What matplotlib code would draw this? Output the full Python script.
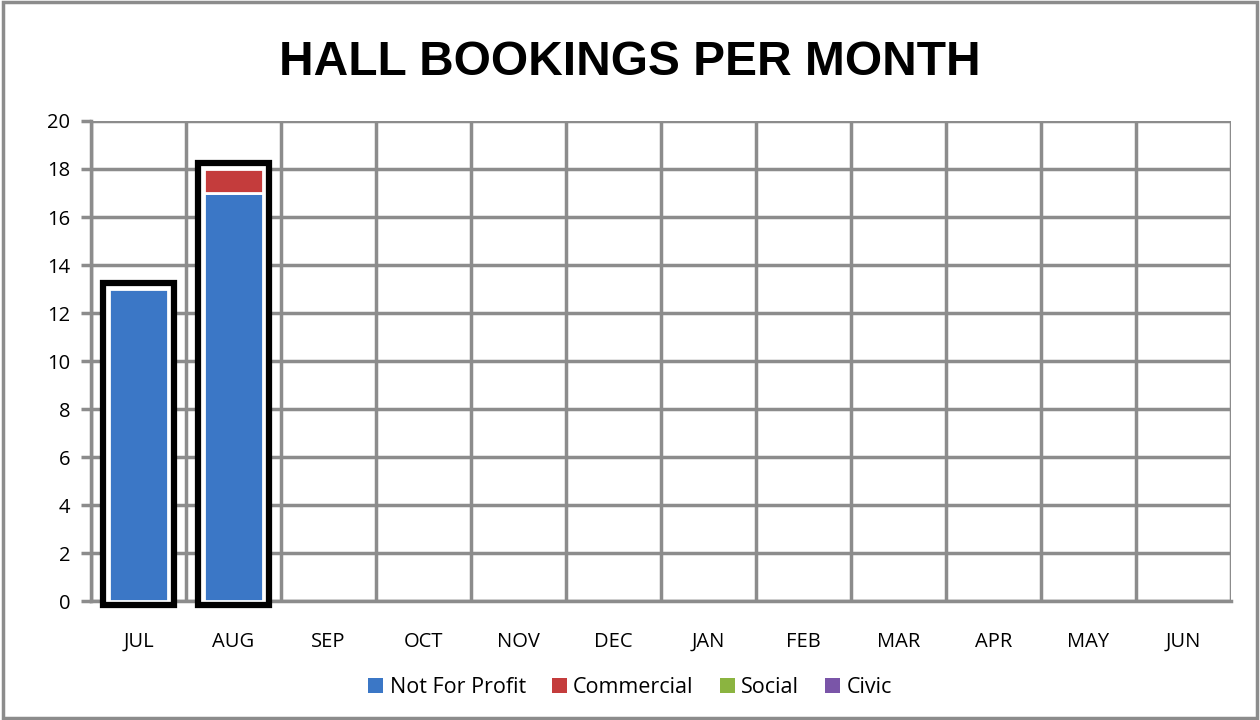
import matplotlib.pyplot as plt
import numpy as np
from matplotlib.patches import Rectangle, Patch

months = ['JUL', 'AUG', 'SEP', 'OCT', 'NOV', 'DEC', 'JAN', 'FEB', 'MAR', 'APR', 'MAY', 'JUN']
not_for_profit = [13, 17, 0, 0, 0, 0, 0, 0, 0, 0, 0, 0]
commercial = [0, 1, 0, 0, 0, 0, 0, 0, 0, 0, 0, 0]
social = [0, 0, 0, 0, 0, 0, 0, 0, 0, 0, 0, 0]
civic = [0, 0, 0, 0, 0, 0, 0, 0, 0, 0, 0, 0]

series = [('Not For Profit', not_for_profit, '#3b77c6'),
          ('Commercial', commercial, '#c43c3c'),
          ('Social', social, '#8bb440'),
          ('Civic', civic, '#7a55a8')]

plt.rcParams['font.family'] = ['Open Sans', 'DejaVu Sans']

fig = plt.figure(figsize=(12.6, 7.2), dpi=100)
fig.patches.append(Rectangle((0.002, 0.003), 0.996, 0.994, transform=fig.transFigure,
                             fill=False, edgecolor='#8c8c8c', linewidth=2.5))
ax = fig.add_axes([0.0722, 0.165, 0.9048, 0.667])

x = np.arange(len(months))
totals = np.sum([s[1] for s in series], axis=0)

# black outline around each month's stack
for xi, t in zip(x, totals):
    if t > 0:
        ax.bar(xi, t + 0.4, width=0.74, bottom=-0.15, color='white', edgecolor='black',
               linewidth=4.5, zorder=3, clip_on=False)

bottom = np.zeros(len(months))
for name, vals, col in series:
    vals = np.array(vals, dtype=float)
    keep = vals > 0
    ax.bar(x[keep], vals[keep], width=0.62, bottom=bottom[keep], color=col,
           edgecolor='white', linewidth=2, zorder=4, label=name)
    bottom += vals

ax.set_xlim(-0.5, len(months) - 0.5)
ax.set_ylim(0, 20)
ax.set_yticks(range(0, 21, 2))
ax.set_xticks(x)
ax.set_xticklabels(months)
ax.set_xticks(np.arange(-0.5, len(months), 1), minor=True)
ax.grid(axis='y', color='#8c8c8c', linewidth=2.5, zorder=0)
ax.grid(axis='x', which='minor', color='#8c8c8c', linewidth=2.5, zorder=0)
ax.tick_params(axis='x', which='both', length=0, labelsize=14.5, pad=22)
ax.tick_params(axis='y', length=7, width=2.5, color='#8c8c8c', labelsize=14.5, pad=8)
for side in ['top', 'right']:
    ax.spines[side].set_visible(False)
for side in ['left', 'bottom']:
    ax.spines[side].set_color('#8c8c8c')
    ax.spines[side].set_linewidth(2.5)
ax.set_axisbelow(True)

fig.text(0.5, 0.913, 'HALL BOOKINGS PER MONTH', ha='center', va='center',
         fontsize=34.5, fontweight='bold', family='Liberation Sans')

handles = [Patch(facecolor=c, edgecolor='none', label=n) for n, _, c in series]
fig.legend(handles=handles, loc='center', bbox_to_anchor=(0.5, 0.045), ncol=4,
           frameon=False, fontsize=15.5, handlelength=0.7, handleheight=0.7,
           handletextpad=0.3, columnspacing=1.2)

fig.savefig('out.png', dpi=100)
